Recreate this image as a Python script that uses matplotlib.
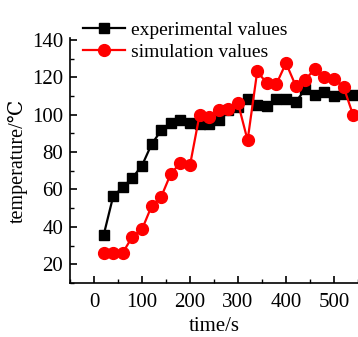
import matplotlib.pyplot as plt
from matplotlib.ticker import MultipleLocator

# time samples every 20 s
time_s = [20, 40, 60, 80, 100, 120, 140, 160, 180, 200, 220, 240, 260, 280,
          300, 320, 340, 360, 380, 400, 420, 440, 460, 480, 500, 520, 540]

experimental = [35.5, 56.4, 61.2, 66.2, 72.8, 84.2, 91.6, 95.6, 97.0, 95.6,
                95.2, 95.2, 97.0, 102.3, 104.1, 108.4, 105.3, 104.4, 108.5,
                108.4, 106.8, 113.5, 110.5, 112.0, 110.2, 111.0, 110.5]

simulation = [26.2, 26.2, 26.2, 34.8, 38.7, 51.1, 56.1, 68.4, 74.2, 73.0,
              100.0, 98.6, 102.7, 103.0, 106.2, 86.3, 123.1, 116.9, 116.4,
              127.6, 115.6, 118.7, 124.4, 120.1, 119.2, 114.8, 99.6]

plt.rcParams['font.family'] = ['Liberation Serif', 'DejaVu Serif']
plt.rcParams['font.size'] = 14


def main():
    fig = plt.figure(figsize=(3.58, 3.37), dpi=100)
    ax = fig.add_axes([70 / 358, 54 / 337, 288 / 358, 245 / 337])

    ax.plot(time_s, experimental, color='black', marker='s', markersize=7,
            linewidth=1.6, label='experimental values')
    ax.plot(time_s, simulation, color='#ff0000', marker='o', markersize=8.5,
            linewidth=1.6, label='simulation values')

    ax.set_xlim(-50, 550)
    ax.set_ylim(10, 141)
    ax.xaxis.set_major_locator(MultipleLocator(100))
    ax.xaxis.set_minor_locator(MultipleLocator(50))
    ax.yaxis.set_minor_locator(MultipleLocator(10))
    ax.set_yticks([20, 40, 60, 80, 100, 120, 140])

    for side in ['top', 'right']:
        ax.spines[side].set_visible(False)
    for side in ['left', 'bottom']:
        ax.spines[side].set_linewidth(1.2)
    ax.tick_params(which='major', direction='in', length=5, width=1.2,
                   labelsize=15)
    ax.tick_params(which='minor', direction='in', length=3, width=1.0)
    ax.tick_params(axis='x', which='major', pad=7)
    ax.tick_params(axis='y', which='major', pad=5)

    ax.set_xlabel('time/s', fontsize=15, labelpad=4)
    ax.set_ylabel('temperature/℃', fontsize=14.5, labelpad=3)

    fig.legend(loc='upper left', bbox_to_anchor=(83 / 358, 1 - 21 / 337),
               frameon=False, fontsize=14, handlelength=2.15,
               handletextpad=0.3, labelspacing=0.26, borderpad=0,
               borderaxespad=0)

    fig.savefig('out.png', dpi=100)


if __name__ == "__main__":
    main()
